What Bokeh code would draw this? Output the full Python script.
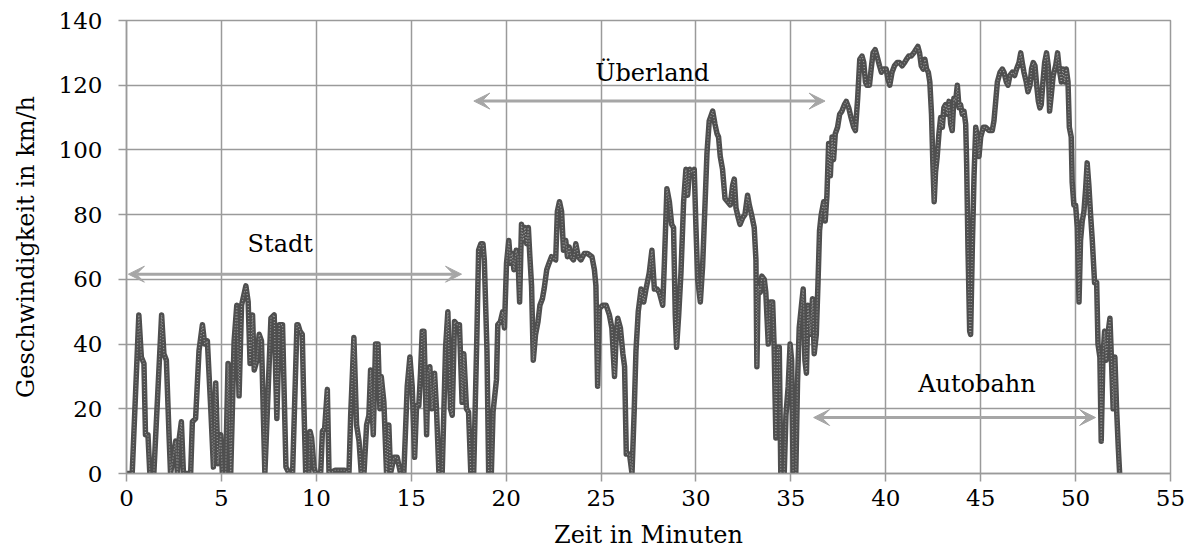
from bokeh.plotting import figure
from bokeh.models import Range1d, FixedTicker, Arrow, VeeHead, ColumnDataSource
from bokeh.core.properties import value
from bokeh.embed import file_html
from bokeh.resources import INLINE

# ---- data: time in minutes, speed in km/h ----
zeit_min = [
    0, 0.3, 0.65, 0.78, 0.92, 1.0, 1.13, 1.23, 1.44, 1.85, 1.97, 2.1, 2.24, 2.32, 2.59, 2.68, 2.76, 2.89, 3.0, 3.38,
    3.47, 3.64, 3.82, 4.0, 4.12, 4.26, 4.44, 4.58, 4.7, 4.82, 4.96, 5.05, 5.22, 5.35, 5.49, 5.67, 5.81, 5.93, 6.06, 6.29,
    6.41, 6.51, 6.64, 6.73, 6.87, 6.99, 7.11, 7.29, 7.61, 7.78, 7.92, 8.05, 8.22, 8.4, 8.57, 8.75, 8.98,
    9.04, 9.14, 9.26, 9.32, 9.44, 9.61, 9.67, 9.75, 9.88, 9.96, 10.23, 10.32, 10.44, 10.58, 10.67, 11.0, 11.5, 11.72,
    11.81, 11.98, 12.12, 12.25, 12.37, 12.51, 12.65, 12.77, 12.86, 13.0, 13.12, 13.25, 13.35, 13.42, 13.56, 13.7,
    13.82, 13.91, 14.09, 14.26, 14.44, 14.61, 14.79, 14.93, 15.05, 15.18, 15.28, 15.4, 15.49, 15.58, 15.67, 15.81,
    15.88, 15.98, 16.1, 16.23, 16.33, 16.46, 16.63, 16.81, 16.93, 17.07, 17.16, 17.28, 17.42, 17.54, 17.68, 17.77,
    17.91, 18.02, 18.14,
    18.29, 18.46, 18.55, 18.67, 18.78, 18.85, 18.99, 19.08, 19.22, 19.31, 19.49, 19.56, 19.7, 19.82, 19.91, 20.02,
    20.14, 20.23, 20.32, 20.41, 20.53, 20.62, 20.71, 20.81, 20.9, 20.99, 21.08, 21.17, 21.25, 21.34, 21.43, 21.55,
    21.68, 21.78, 21.91, 22.0, 22.14, 22.26, 22.39, 22.61, 22.7, 22.81, 22.92, 23.02, 23.14, 23.23, 23.32, 23.41,
    23.55, 23.67, 23.8, 23.94, 24.12, 24.29, 24.52, 24.65, 24.73, 24.82, 24.91, 25.09, 25.27, 25.44, 25.57, 25.71,
    25.8, 25.88, 26.02, 26.15, 26.24, 26.33, 26.5, 26.63,
    26.75, 26.84, 26.96, 27.11, 27.25, 27.37, 27.54, 27.68, 27.81, 27.95, 28.07, 28.25, 28.33, 28.47, 28.6, 28.72,
    28.82, 28.91, 28.98, 29.09, 29.21, 29.35, 29.47, 29.56, 29.67, 29.79, 29.91, 30.0, 30.09, 30.23, 30.35, 30.47,
    30.58, 30.7, 30.88, 31.0, 31.11, 31.19, 31.28, 31.4, 31.53, 31.67, 31.81, 31.93, 32.02, 32.11, 32.23, 32.32,
    32.46, 32.58, 32.72, 32.81, 32.93, 33.07, 33.16, 33.21, 33.28, 33.39, 33.47, 33.6, 33.68, 33.81, 33.91, 34.04,
    34.12, 34.21, 34.3, 34.39, 34.47, 34.65, 34.74, 34.86, 34.96, 35.04, 35.12, 35.26, 35.35, 35.44,
    35.56, 35.65, 35.74, 35.82, 35.9, 36.02, 36.14, 36.23, 36.34, 36.43, 36.51, 36.6, 36.73, 36.81, 36.9, 36.99,
    37.08, 37.17, 37.25, 37.34, 37.46, 37.57, 37.69, 37.82, 37.92, 38.05, 38.17, 38.31, 38.4, 38.52, 38.63, 38.75,
    38.84, 38.93, 39.01, 39.14, 39.23, 39.33, 39.44, 39.54, 39.67, 39.77, 39.89, 40.02, 40.11, 40.21, 40.33, 40.46,
    40.6, 40.72, 40.86, 40.99, 41.09, 41.21, 41.34, 41.48, 41.58, 41.69, 41.78, 41.87, 41.97, 42.06, 42.15, 42.24,
    42.32, 42.41, 42.48, 42.55, 42.62, 42.71, 42.8, 42.89, 42.98, 43.06, 43.15, 43.24, 43.33, 43.42, 43.5, 43.59,
    43.68, 43.77, 43.86, 43.94, 44.03, 44.12, 44.21, 44.26, 44.33, 44.42, 44.47, 44.56, 44.65, 44.74, 44.82, 44.91,
    45.0,
    45.14, 45.26, 45.44, 45.61, 45.7, 45.79, 45.88, 46.02, 46.14, 46.23, 46.35, 46.44, 46.54, 46.67, 46.79, 46.89,
    47.02, 47.11, 47.19, 47.28, 47.4, 47.49, 47.6, 47.68, 47.77, 47.86, 47.95, 48.04, 48.12, 48.19, 48.28, 48.37,
    48.47, 48.56, 48.63, 48.72, 48.82, 48.95, 49.05, 49.14, 49.25, 49.33, 49.42, 49.51, 49.6, 49.67, 49.77, 49.82,
    49.91, 50.0, 50.09, 50.18, 50.26, 50.35, 50.44, 50.53, 50.61, 50.7, 50.79, 50.88, 51.0, 51.11, 51.18, 51.28,
    51.35, 51.44, 51.53, 51.61, 51.7, 51.81, 51.89, 51.98, 52.07, 52.16, 52.25, 52.32,
]
geschwindigkeit_kmh = [
    0, 0, 49, 36, 34, 12, 12, 0, 0, 49, 37, 35, 12, 0, 10, 0, 10, 16, 0, 0,
    16, 17, 38, 46, 40, 41, 20, 2, 28, 3, 12, 0, 0, 34, 0, 41, 52, 24, 52, 58,
    53, 34, 49, 32, 35, 43, 41, 0, 48, 49, 17, 46, 46, 2, 0, 0, 46,
    46, 44, 43, 27, 0, 0, 13, 11, 2, 0, 0, 13, 14, 26, 0, 1, 1, 0,
    18, 42, 15, 10, 0, 0, 15, 18, 32, 12, 40, 40, 20, 30, 22, 0,
    15, 0, 5, 5, 0, 0, 27, 36, 27, 5, 21, 21, 31, 44, 44, 12,
    31, 33, 20, 31, 20, 0, 0, 39, 50, 20, 18, 47, 46, 46, 22, 37,
    20, 19, 0,
    0, 43, 69, 71, 71, 66, 38, 0, 0, 19, 29, 46, 47, 50, 45, 65,
    72, 65, 68, 63, 69, 67, 53, 77, 72, 76, 71, 76, 67, 58, 35, 43,
    47, 52, 54, 57, 63, 65, 67, 66, 81, 84, 81, 69, 72, 67, 70, 67,
    66, 71, 67, 66, 68, 68, 67, 63, 58, 27, 51, 52, 52, 49, 45, 30,
    43, 48, 45, 37, 33, 6, 6, 0,
    20, 38, 50, 57, 53, 57, 62, 69, 57, 57, 56, 52, 64, 88, 84, 77,
    76, 49, 39, 49, 62, 84, 94, 86, 94, 93, 94, 76, 60, 53, 64, 82,
    99, 109, 112, 108, 105, 104, 98, 94, 85, 84, 83, 89, 91, 82, 79, 77,
    79, 80, 86, 83, 80, 76, 66, 33, 58, 56, 61, 60, 56, 40, 53, 53,
    39, 11, 39, 39, 0, 0, 18, 27, 40, 35, 0, 0, 28, 45,
    52, 57, 35, 31, 52, 43, 54, 37, 43, 59, 75, 80, 84, 78, 86, 102,
    92, 104, 97, 105, 107, 111, 112, 114, 115, 113, 110, 107, 106, 116, 128, 129,
    127, 121, 120, 120, 125, 130, 131, 129, 126, 124, 125, 125, 122, 120, 124, 126,
    127, 127, 126, 127, 128, 129, 129, 130, 131, 132, 130, 126, 125, 128, 125, 124,
    121, 111, 96, 84, 93, 98, 105, 110, 107, 113, 114, 111, 115, 108, 106, 116,
    115, 120, 113, 114, 111, 112, 108, 96, 70, 44, 43, 70, 92, 107, 104, 98,
    104,
    107, 107, 106, 106, 109, 115, 121, 124, 125, 124, 121, 120, 123, 124, 123, 125,
    127, 130, 127, 124, 121, 118, 120, 125, 127, 126, 120, 115, 113, 114, 121, 127,
    130, 126, 112, 117, 123, 126, 130, 125, 121, 125, 121, 125, 121, 107, 104, 90,
    83, 83, 76, 53, 72, 78, 81, 88, 96, 89, 80, 72, 59, 59, 40, 36,
    10, 36, 44, 35, 43, 48, 35, 20, 36, 20, 8, 0,
]

x_ticks = [0, 5, 10, 15, 20, 25, 30, 35, 40, 45, 50, 55]
y_ticks = [0, 20, 40, 60, 80, 100, 120, 140]

# section annotations: name, start, end (minutes), arrow height, label position
abschnitt_namen = ["Stadt", "Überland", "Autobahn"]
abschnitt_start = [0.1, 18.3, 36.2]
abschnitt_ende = [17.65, 36.8, 51.05]
abschnitt_pfeil_v = [61.6, 115.1, 17.3]
abschnitt_label_t = [8.1, 27.7, 44.8]
abschnitt_label_v = [71.0, 123.8, 27.8]

FONT = "DejaVu Serif"
GRID = "#9a9a9a"

p = figure(width=1186, height=552, output_backend="svg", toolbar_location=None,
           x_range=Range1d(0, 55), y_range=Range1d(0, 140),
           min_border_left=126, min_border_right=16, min_border_top=20, min_border_bottom=79)

p.outline_line_color = GRID
p.outline_line_width = 1.5
p.background_fill_color = "white"
p.border_fill_color = "white"

for ax in (p.xaxis[0], p.yaxis[0]):
    ax.axis_line_color = GRID
    ax.axis_line_width = 1.5
    ax.major_tick_line_color = GRID
    ax.major_tick_line_width = 1.5
    ax.major_tick_out = 8
    ax.major_tick_in = 0
    ax.minor_tick_line_color = None
    ax.major_label_text_font = FONT
    ax.major_label_text_font_size = "23px"
    ax.major_label_text_color = "black"
    ax.axis_label_text_font = FONT
    ax.axis_label_text_font_size = "24px"
    ax.axis_label_text_font_style = "normal"
    ax.axis_label_text_color = "black"

p.xaxis.ticker = FixedTicker(ticks=x_ticks)
p.yaxis.ticker = FixedTicker(ticks=y_ticks)
p.xaxis.axis_label = "Zeit in Minuten"
p.yaxis.axis_label = "Geschwindigkeit in km/h"
p.xaxis.major_label_standoff = 8
p.yaxis.major_label_standoff = 16
p.xaxis.axis_label_standoff = 12
p.yaxis.axis_label_standoff = 16

p.xgrid.ticker = FixedTicker(ticks=x_ticks)
p.ygrid.ticker = FixedTicker(ticks=y_ticks)
p.grid.grid_line_color = GRID
p.grid.grid_line_width = 1.5

# speed trace: thick dark line with a lighter dotted core
src = ColumnDataSource(dict(t=zeit_min, v=geschwindigkeit_kmh))
p.line("t", "v", source=src, line_color="#4f4f4f", line_width=5.5, line_join="round")
p.line("t", "v", source=src, line_color="#9c9c9c", line_width=1.2, line_dash="1 2")

# section arrows
for s, e, v in zip(abschnitt_start, abschnitt_ende, abschnitt_pfeil_v):
    p.add_layout(Arrow(x_start=s, y_start=v, x_end=e, y_end=v,
                       line_color="#a6a6a6", line_width=3,
                       start=VeeHead(size=16, fill_color="#a6a6a6", line_color="#a6a6a6", line_width=1),
                       end=VeeHead(size=16, fill_color="#a6a6a6", line_color="#a6a6a6", line_width=1)))

p.text(x=abschnitt_label_t, y=abschnitt_label_v, text=abschnitt_namen,
       text_font=value(FONT), text_font_size="24px", text_color="black",
       text_align="center", text_baseline="middle")

open("out.html", "w").write(file_html(p, INLINE))
